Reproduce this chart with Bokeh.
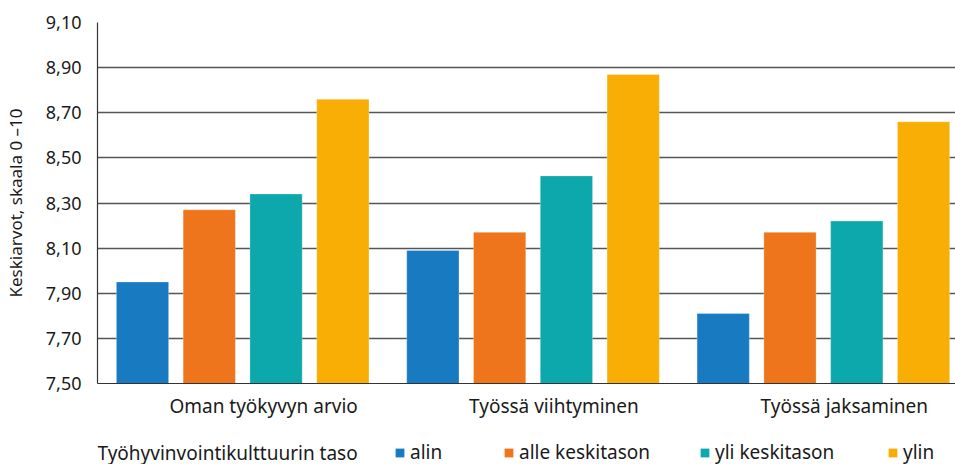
from bokeh.plotting import figure
from bokeh.models import Range1d, FixedTicker, Legend, LegendItem, Label
from bokeh.layouts import column
from bokeh.embed import file_html
from bokeh.resources import INLINE

categories = ["Oman työkyvyn arvio", "Työssä viihtyminen", "Työssä jaksaminen"]
series_names = ["alin", "alle keskitason", "yli keskitason", "ylin"]
alin = [7.95, 8.09, 7.81]
alle_keskitason = [8.27, 8.17, 8.17]
yli_keskitason = [8.34, 8.42, 8.22]
ylin = [8.76, 8.87, 8.66]
y_ticks = [7.5, 7.7, 7.9, 8.1, 8.3, 8.5, 8.7, 8.9, 9.1]
y_tick_labels = ["7,50", "7,70", "7,90", "8,10", "8,30", "8,50", "8,70", "8,90", "9,10"]
legend_title = "Työhyvinvointikulttuurin taso"
y_axis_title = "Keskiarvot, skaala 0 –10"

series = [alin, alle_keskitason, yli_keskitason, ylin]
colors = ["#187bc2", "#ee751c", "#0ca8ab", "#f8ae05"]
offsets = [-0.345, -0.115, 0.115, 0.345]
bar_width = 0.18
label_shift = 0.072
FONT = "Noto Sans"
TXT = "#1a1a1a"

p = figure(width=955, height=435, output_backend="svg", toolbar_location=None,
           x_range=Range1d(0, 2.955), y_range=Range1d(7.5, 9.1),
           min_border_left=97, min_border_right=0, min_border_top=22, min_border_bottom=52)
p.outline_line_color = None
p.background_fill_color = "white"
p.border_fill_color = "white"

for vals, col, off in zip(series, colors, offsets):
    xs = [i + 0.5 + off for i in range(len(categories))]
    p.vbar(x=xs, top=vals, bottom=7.5, width=bar_width, fill_color=col,
           line_color="white", line_alpha=0.35, line_width=0.8)

# y axis
p.yaxis.ticker = FixedTicker(ticks=y_ticks)
p.yaxis.major_label_overrides = {t: l for t, l in zip(y_ticks, y_tick_labels)}
p.yaxis.major_tick_line_color = None
p.yaxis.minor_tick_line_color = None
p.yaxis.axis_line_color = "#333333"
p.yaxis.axis_line_width = 1.2
p.yaxis.major_label_text_font = FONT
p.yaxis.major_label_text_font_size = "18px"
p.yaxis.major_label_text_color = TXT
p.yaxis.major_label_standoff = 10
p.yaxis.axis_label = y_axis_title
p.yaxis.axis_label_text_font = FONT
p.yaxis.axis_label_text_font_size = "17px"
p.yaxis.axis_label_text_font_style = "normal"
p.yaxis.axis_label_text_color = TXT
p.yaxis.axis_label_standoff = 16

# x axis
cat_ticks = [i + 0.5 + label_shift for i in range(len(categories))]
p.xaxis.ticker = FixedTicker(ticks=cat_ticks)
p.xaxis.major_label_overrides = {t: c for t, c in zip(cat_ticks, categories)}
p.xaxis.major_tick_line_color = None
p.xaxis.minor_tick_line_color = None
p.xaxis.axis_line_color = "#333333"
p.xaxis.axis_line_width = 1.2
p.xaxis.major_label_text_font = FONT
p.xaxis.major_label_text_font_size = "19px"
p.xaxis.major_label_text_color = TXT
p.xaxis.major_label_standoff = 3

p.xgrid.grid_line_color = None
p.ygrid.ticker = FixedTicker(ticks=y_ticks)
p.ygrid.grid_line_color = "#555555"
p.ygrid.grid_line_width = 1.4

# legend strip below the chart; its frame is aligned with the chart frame (x=97..955)
q = figure(width=955, height=29, output_backend="svg", toolbar_location=None,
           x_range=Range1d(0, 858), y_range=Range1d(0, 29),
           min_border_left=97, min_border_right=0, min_border_top=0, min_border_bottom=0,
           x_axis_type=None, y_axis_type=None)
q.outline_line_color = None
q.xgrid.grid_line_color = None
q.ygrid.grid_line_color = None
q.border_fill_color = "white"

legend_x = [297, 406, 602, 790]
for name, col, lx in zip(series_names, colors, legend_x):
    r = q.vbar(x=[-1000], top=[-1000], bottom=[-1001], width=1, fill_color=col, line_color=None)
    lg = Legend(items=[LegendItem(label=name, renderers=[r])], location=(lx, -1),
                orientation="horizontal", padding=0, margin=0, spacing=0,
                glyph_width=11, glyph_height=11, label_standoff=5, label_height=11,
                label_text_font=FONT, label_text_font_size="19px", label_text_color=TXT,
                border_line_color=None, background_fill_alpha=0)
    q.add_layout(lg, "center")

q.add_layout(Label(x=0, y=12, text=legend_title, text_font=FONT,
                   text_font_size="19px", text_color=TXT,
                   text_baseline="middle", text_align="left"))

open("out.html", "w").write(file_html(column(p, q, spacing=0), INLINE))
